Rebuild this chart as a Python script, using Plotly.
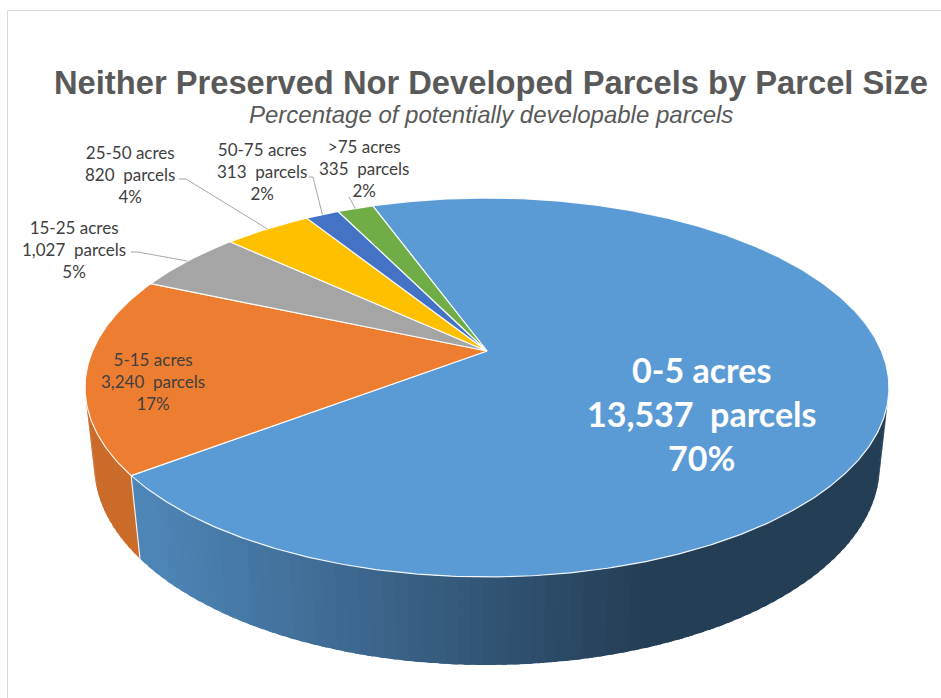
import numpy as np
import plotly.graph_objects as go

# ---------------- data ----------------
categories = ["0-5 acres", "5-15 acres", "15-25 acres", "25-50 acres", "50-75 acres", ">75 acres"]
parcels = [13537, 3240, 1027, 820, 313, 335]
slice_colors = ["#5B9BD5", "#ED7D31", "#A5A5A5", "#FFC000", "#4472C4", "#70AD47"]

title_text = "Neither Preserved Nor Developed Parcels by Parcel Size"
subtitle_text = "Percentage of potentially developable parcels"

# ---------------- layout / geometry (styling) ----------------
W, H = 941, 698
CX, CY = 487.0, 351.0          # screen position of the pie centre
ALPHA = np.radians(27.55)      # elevation of the view
DIST = 4.604                   # camera distance (pie radius = 1)
FOC = 1816.0                   # focal length in pixels
THICK = 0.2234                 # pie thickness (pie radius = 1)
START = 340.0                  # angle of first slice, clockwise from the back

# label centres (x, y) and leader start points
label_pos = [(701, 413), (153, 381), (74, 249), (130, 174), (262, 171), (364, 168)]
leader_start = [None, None, [(131, 252), (138, 252)], [(179, 179), (186, 179)],
                [(309, 177), (313, 177)], [(349, 197)]]

SIN_A, COS_A = np.sin(ALPHA), np.cos(ALPHA)


def proj(theta_deg, z=0.0):
    t = np.radians(np.asarray(theta_deg, dtype=float))
    u = np.sin(t)
    v = np.cos(t)
    up = v * SIN_A + z * COS_A
    depth = DIST + v * COS_A - z * SIN_A
    return CX + FOC * u / depth, CY - FOC * up / depth


def shade(hex_color, f):
    h = hex_color.lstrip("#")
    r, g, b = (int(h[i:i + 2], 16) for i in (0, 2, 4))
    return "rgb({},{},{})".format(int(r * f), int(g * f), int(b * f))


def side_factor(x):
    return float(np.clip(0.86 - 0.46 * (x - 150.0) / 500.0, 0.40, 0.86))


total = float(sum(parcels))
fracs = [p / total for p in parcels]
pcts = [int(round(100 * f)) for f in fracs]
bounds = []
acc = START
for f in fracs:
    bounds.append((acc, acc + 360.0 * f))
    acc += 360.0 * f

fig = go.Figure()

# ---------------- visible side (front-facing wall) ----------------
vis_lim = np.degrees(np.arccos(-1.0 / (DIST * COS_A)))
vis_lo, vis_hi = vis_lim, 360.0 - vis_lim
STEP = 1.5
for k, (a0, a1) in enumerate(bounds):
    for shift in (-360.0, 0.0, 360.0):
        lo = max(a0 + shift, vis_lo)
        hi = min(a1 + shift, vis_hi)
        if hi <= lo:
            continue
        n = max(1, int(np.ceil((hi - lo) / STEP)))
        edges = np.linspace(lo, hi, n + 1)
        for i in range(n):
            e1 = min(edges[i + 1] + 0.8, hi)   # overlap the next strip to hide seams
            ang = np.linspace(edges[i], e1, 5)
            xt, yt = proj(ang, 0.0)
            xb, yb = proj(ang[::-1], -THICK)
            xs = np.concatenate([xt, xb, xt[:1]])
            ys = np.concatenate([yt, yb, yt[:1]])
            xm, _ = proj((edges[i] + edges[i + 1]) / 2.0, 0.0)
            col = shade(slice_colors[k], side_factor(float(xm)))
            fig.add_trace(go.Scatter(x=xs, y=ys, mode="lines", fill="toself",
                                     fillcolor=col, line=dict(width=0),
                                     hoverinfo="skip", showlegend=False))

# light edge where slices meet on the visible wall
for k, (a0, a1) in enumerate(bounds):
    for shift in (-360.0, 0.0, 360.0):
        a = a0 + shift
        if vis_lo < a < vis_hi:
            x0, y0 = proj(a, 0.0)
            x1, y1 = proj(a, -THICK)
            fig.add_trace(go.Scatter(x=[x0, x1], y=[y0, y1], mode="lines",
                                     line=dict(color="rgba(255,255,255,0.85)", width=1.2),
                                     hoverinfo="skip", showlegend=False))

# ---------------- top faces ----------------
for k, (a0, a1) in enumerate(bounds):
    ang = np.linspace(a0, a1, max(3, int((a1 - a0) / 0.5)))
    xa, ya = proj(ang, 0.0)
    xs = np.concatenate([[CX], xa, [CX]])
    ys = np.concatenate([[CY], ya, [CY]])
    fig.add_trace(go.Scatter(
        x=xs, y=ys, mode="lines", fill="toself", fillcolor=slice_colors[k],
        line=dict(color="rgba(255,255,255,0.9)", width=1.2),
        name=categories[k], hoveron="fills",
        text="{}: {:,} parcels ({}%)".format(categories[k], parcels[k], pcts[k]),
        hoverinfo="text", showlegend=False))

# ---------------- leader lines ----------------
for k, (a0, a1) in enumerate(bounds):
    if leader_start[k] is None:
        continue
    rx, ry = proj((a0 + a1) / 2.0, 0.0)
    pts = list(leader_start[k]) + [(float(rx), float(ry))]
    fig.add_trace(go.Scatter(x=[p[0] for p in pts], y=[p[1] for p in pts], mode="lines",
                             line=dict(color="#A6A6A6", width=1),
                             hoverinfo="skip", showlegend=False))

# ---------------- labels ----------------
annotations = []
for k in range(len(categories)):
    txt = "{}<br>{:,}\u00a0 parcels<br>{}%".format(categories[k], parcels[k], pcts[k])
    x, y = label_pos[k]
    if k == 0:
        font = dict(family="Lato, 'Open Sans', sans-serif", size=34, color="white")
        txt = "<b>" + txt + "</b>"
    else:
        font = dict(family="Lato, 'Open Sans', sans-serif", size=17, color="#404040")
    annotations.append(dict(x=x, y=y, xref="x", yref="y", text=txt, showarrow=False,
                            xanchor="center", yanchor="middle", align="center", font=font))

annotations.append(dict(x=491, y=82, xref="x", yref="y", text="<b>" + title_text + "</b>",
                        showarrow=False, xanchor="center", yanchor="middle",
                        font=dict(family="'Liberation Sans', Arial, sans-serif", size=32.7,
                                  color="#595959")))
annotations.append(dict(x=491, y=114, xref="x", yref="y", text="<i>" + subtitle_text + "</i>",
                        showarrow=False, xanchor="center", yanchor="middle",
                        font=dict(family="'Liberation Sans', Arial, sans-serif", size=24,
                                  color="#595959")))

fig.update_layout(
    width=W, height=H, margin=dict(l=0, r=0, t=0, b=0),
    paper_bgcolor="white", plot_bgcolor="white", showlegend=False,
    xaxis=dict(range=[0, W], visible=False, fixedrange=True),
    yaxis=dict(range=[H, 0], visible=False, fixedrange=True),
    annotations=annotations,
    shapes=[dict(type="rect", xref="x", yref="y", x0=7.5, y0=10.5, x1=W + 10, y1=H + 10,
                 line=dict(color="#D9D9D9", width=1), fillcolor="rgba(0,0,0,0)", layer="below")],
)

fig.write_html("out.html")
